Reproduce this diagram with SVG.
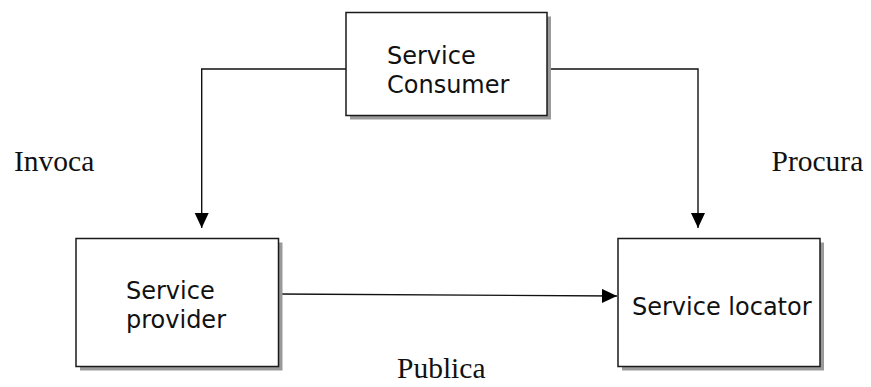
<svg xmlns="http://www.w3.org/2000/svg" width="871" height="387" viewBox="0 0 871 387">
  <style>
    .box { fill: #ffffff; stroke: #1a1a1a; stroke-width: 1.5; }
    .shadow { fill: #9a9a9a; filter: url(#soft); }
    .label { font-family: "DejaVu Sans", Verdana, sans-serif; font-size: 24px; fill: #111111; }
    .note { font-family: "Liberation Serif", "Times New Roman", serif; font-size: 29.5px; fill: #111111; }
    .wire { fill: none; stroke: #111111; stroke-width: 1.4; marker-end: url(#head); }
  </style>
  <defs>
    <filter id="soft" x="-5%" y="-5%" width="110%" height="110%">
      <feGaussianBlur stdDeviation="0.7"/>
    </filter>
    <marker id="head" markerUnits="userSpaceOnUse" markerWidth="16" markerHeight="16" viewBox="0 0 16 16" refX="15" refY="7" orient="auto">
      <path d="M0,0 L15,7 L0,14 Z" fill="#000000"/>
    </marker>
  </defs>
  <rect width="871" height="387" fill="#ffffff"/>

  <g id="connectors">
    <path class="wire" d="M346,69 H201.7 V228"/>
    <path class="wire" d="M547,69 H698 V228"/>
    <path class="wire" d="M279,294 L617,296"/>
  </g>

  <g id="service-consumer">
    <rect class="shadow" x="350" y="16.5" width="201" height="103"/>
    <rect class="box" x="346" y="12.5" width="201" height="103"/>
    <text class="label" x="387" y="63.5">Service</text>
    <text class="label" x="387" y="92.5">Consumer</text>
  </g>

  <g id="service-provider">
    <rect class="shadow" x="80" y="242.5" width="202.5" height="128"/>
    <rect class="box" x="76" y="238.5" width="202.5" height="128"/>
    <text class="label" x="126" y="299">Service</text>
    <text class="label" x="126" y="328">provider</text>
  </g>

  <g id="service-locator">
    <rect class="shadow" x="622" y="242.5" width="202" height="128"/>
    <rect class="box" x="618" y="238.5" width="202" height="128"/>
    <text class="label" x="632" y="315">Service locator</text>
  </g>

  <g id="edge-labels">
    <text class="note" x="14" y="171">Invoca</text>
    <text class="note" x="771.5" y="171">Procura</text>
    <text class="note" x="397" y="378">Publica</text>
  </g>
</svg>
